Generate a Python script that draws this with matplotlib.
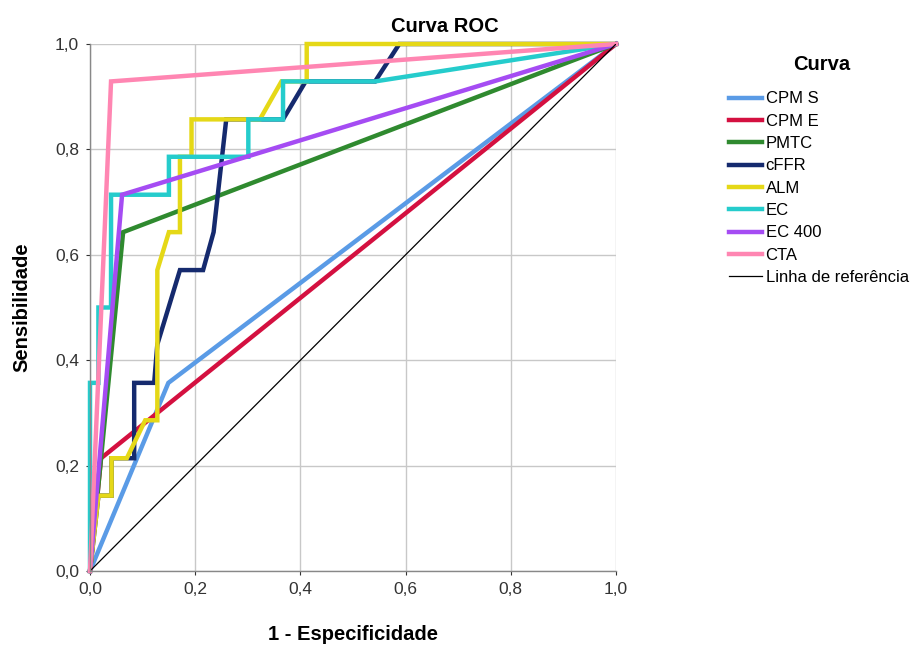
import matplotlib
matplotlib.use("Agg")
import matplotlib.pyplot as plt
from matplotlib.ticker import FuncFormatter

plt.rcParams['font.family'] = ['Liberation Sans', 'DejaVu Sans']

# dados (1 - especificidade, sensibilidade)
cpm_s_x = [0.0, 0.149, 1.0]
cpm_s_y = [0.0, 0.357, 1.0]

cpm_e_x = [0.0, 0.021, 1.0]
cpm_e_y = [0.0, 0.214, 1.0]

pmtc_x = [0.0, 0.063, 1.0]
pmtc_y = [0.0, 0.643, 1.0]

cffr_x = [0.0, 0.016, 0.041, 0.041, 0.070, 0.084, 0.084, 0.122, 0.128, 0.171, 0.215, 0.235,
          0.259, 0.367, 0.410, 0.542, 0.588, 1.0]
cffr_y = [0.0, 0.143, 0.143, 0.214, 0.214, 0.214, 0.357, 0.357, 0.43, 0.571, 0.571, 0.643,
          0.857, 0.857, 0.929, 0.929, 1.0, 1.0]

alm_x = [0.0, 0.016, 0.041, 0.041, 0.070, 0.105, 0.128, 0.128, 0.150, 0.171, 0.171, 0.193,
         0.193, 0.323, 0.364, 0.412, 0.412, 1.0]
alm_y = [0.0, 0.143, 0.143, 0.214, 0.214, 0.286, 0.286, 0.571, 0.643, 0.643, 0.786, 0.786,
         0.857, 0.857, 0.929, 0.929, 1.0, 1.0]

ec_x = [0.0, 0.0, 0.016, 0.016, 0.040, 0.040, 0.150, 0.150, 0.301, 0.301, 0.367, 0.367, 0.542, 1.0]
ec_y = [0.0, 0.357, 0.357, 0.5, 0.5, 0.714, 0.714, 0.786, 0.786, 0.857, 0.857, 0.929, 0.929, 1.0]

ec400_x = [0.0, 0.061, 1.0]
ec400_y = [0.0, 0.714, 1.0]

cta_x = [0.0, 0.040, 1.0]
cta_y = [0.0, 0.929, 1.0]

curvas = [
    ('CPM S', cpm_s_x, cpm_s_y, '#5a9be6'),
    ('CPM E', cpm_e_x, cpm_e_y, '#d41040'),
    ('PMTC', pmtc_x, pmtc_y, '#2f8a2f'),
    ('cFFR', cffr_x, cffr_y, '#152a6e'),
    ('ALM', alm_x, alm_y, '#e5d817'),
    ('EC', ec_x, ec_y, '#25cccc'),
    ('EC 400', ec400_x, ec400_y, '#a54cf3'),
    ('CTA', cta_x, cta_y, '#ff86b2'),
]

ticks = [0.0, 0.2, 0.4, 0.6, 0.8, 1.0]

fig = plt.figure(figsize=(9.14, 6.46), dpi=100)
ax = fig.add_axes([90 / 914, 75 / 646, 526 / 914, 527 / 646])

for nome, xs, ys, cor in curvas:
    ax.plot(xs, ys, color=cor, lw=3.2, label=nome, solid_joinstyle='miter', clip_on=False)
ax.plot([0, 1], [0, 1], color='black', lw=0.9, label='Linha de referência')

ax.set_xlim(0, 1)
ax.set_ylim(0, 1)
ax.set_xticks(ticks)
ax.set_yticks(ticks)
fmt = FuncFormatter(lambda v, p: f"{v:.1f}".replace('.', ','))
ax.xaxis.set_major_formatter(fmt)
ax.yaxis.set_major_formatter(fmt)
ax.tick_params(labelsize=12.5, length=3, width=0.8, colors='#333333', pad=5)
ax.grid(True, color='#c8c8c8', lw=1)
ax.set_axisbelow(True)
for s in ['top', 'right']:
    ax.spines[s].set_visible(False)
for s in ['left', 'bottom']:
    ax.spines[s].set_color('#888888')
    ax.spines[s].set_linewidth(1)

fig.text(445 / 914, 1 - 26 / 646, 'Curva ROC', ha='center', va='center', fontsize=14.5, fontweight='bold')
fig.text(353 / 914, 1 - 634 / 646, '1 - Especificidade', ha='center', va='center', fontsize=14.5,
         fontweight='bold')
fig.text(22 / 914, 1 - 307 / 646, 'Sensibilidade', ha='center', va='center', rotation=90, fontsize=14.5,
         fontweight='bold')

# titulo da legenda
fig.text(822 / 914, 1 - 64 / 646, 'Curva', ha='center', va='center', fontsize=14.5, fontweight='bold')
ax.legend(loc='upper left', bbox_to_anchor=(721 / 914, 1 - 83 / 646), bbox_transform=fig.transFigure,
          frameon=False, fontsize=12, handlelength=1.95, handletextpad=0.22,
          labelspacing=0.44, borderpad=0)

fig.savefig('out.png', dpi=100)
